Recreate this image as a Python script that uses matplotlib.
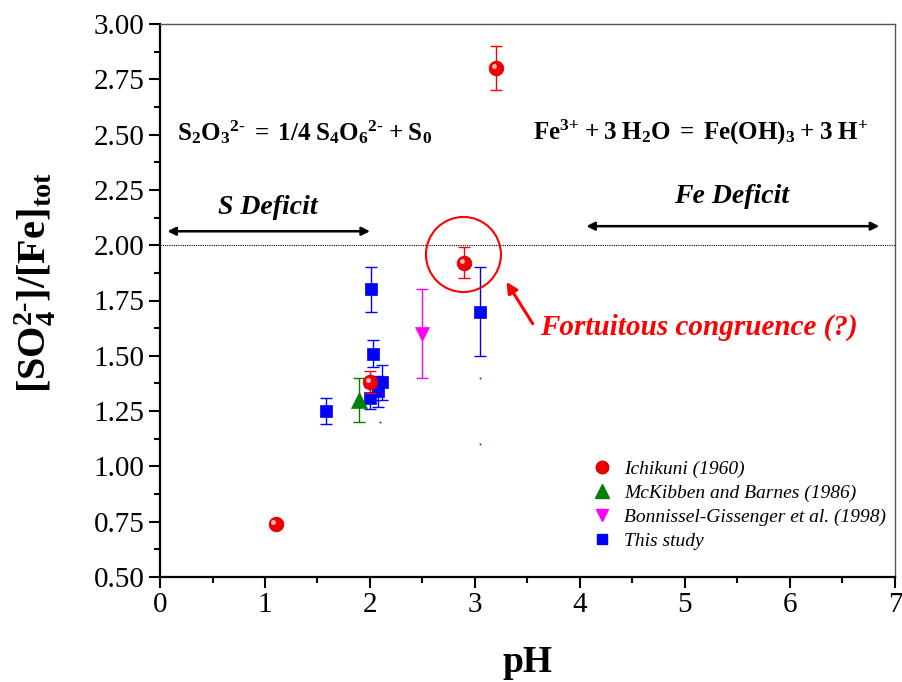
import matplotlib
matplotlib.use("Agg")
import matplotlib.pyplot as plt
from matplotlib.lines import Line2D
from matplotlib.patches import Ellipse
from matplotlib.transforms import ScaledTranslation

plt.rcParams['font.family'] = ['Liberation Serif', 'DejaVu Serif']
plt.rcParams['mathtext.fontset'] = 'custom'
plt.rcParams['mathtext.rm'] = 'Liberation Serif:bold'
plt.rcParams['mathtext.it'] = 'Liberation Serif:italic:bold'
plt.rcParams['mathtext.bf'] = 'Liberation Serif:bold'

# ---- data ----
ichikuni_ph = [1.1, 2.0, 2.9, 3.2]
ichikuni_ratio = [0.74, 1.38, 1.92, 2.80]
ichikuni_err = [0.0, 0.05, 0.07, 0.10]

mckibben_ph = [1.9]
mckibben_ratio = [1.30]
mckibben_err = [0.10]

bonnissel_ph = [2.5]
bonnissel_ratio = [1.60]
bonnissel_err = [0.20]

study_ph = [1.58, 2.01, 2.03, 2.0, 2.08, 2.11, 3.05]
study_ratio = [1.25, 1.80, 1.51, 1.31, 1.34, 1.38, 1.70]
study_err = [0.06, 0.10, 0.06, 0.05, 0.07, 0.08, 0.20]

stray_ph = [3.05, 3.05, 2.1]
stray_ratio = [1.40, 1.10, 1.20]

labels = ['Ichikuni (1960)', 'McKibben and Barnes (1986)',
          'Bonnissel-Gissenger et al. (1998)', 'This study']

x_ticks = [0, 1, 2, 3, 4, 5, 6, 7]
y_ticks = [0.50, 0.75, 1.00, 1.25, 1.50, 1.75, 2.00, 2.25, 2.50, 2.75, 3.00]

fig = plt.figure(figsize=(9.03, 6.82), dpi=100)
ax = fig.add_axes([160/903, 1-577/682, 735/903, 553/682])

ax.set_xlim(0, 7)
ax.set_ylim(0.5, 3.0)

# reference line
ax.axhline(2.0, color='black', lw=0.8, ls=(0, (1, 1)), zorder=1)

cap = 4.3
# This study
ax.errorbar(study_ph, study_ratio, yerr=study_err, fmt='none', ecolor='blue',
            elinewidth=1.0, capsize=cap, capthick=1.0, zorder=2)
ax.plot(study_ph, study_ratio, ls='none', marker='s', ms=9, mfc='blue',
        mec='blue', mew=0.5, zorder=3)
ax.plot(stray_ph, stray_ratio, ls='none', marker='s', ms=1.2, mfc='#2020a0',
        mec='none', zorder=3)

# McKibben
ax.errorbar(mckibben_ph, mckibben_ratio, yerr=mckibben_err, fmt='none',
            ecolor='green', elinewidth=1.0, capsize=cap, capthick=1.0, zorder=2)
ax.plot(mckibben_ph, mckibben_ratio, ls='none', marker='^', ms=11.5,
        mfc='green', mec='green', mew=0.5, zorder=3)

# Bonnissel
ax.errorbar(bonnissel_ph, bonnissel_ratio, yerr=bonnissel_err, fmt='none',
            ecolor='magenta', elinewidth=1.0, capsize=cap, capthick=1.0, zorder=2)
ax.plot(bonnissel_ph, bonnissel_ratio, ls='none', marker='v', ms=10.5,
        mfc='magenta', mec='magenta', mew=0.5, zorder=3)

# Ichikuni (spheres)
ax.errorbar(ichikuni_ph[1:], ichikuni_ratio[1:], yerr=ichikuni_err[1:], fmt='none',
            ecolor='red', elinewidth=1.0, capsize=cap, capthick=1.0, zorder=4)
ax.plot(ichikuni_ph, ichikuni_ratio, ls='none', marker='o', ms=10.5,
        mfc='#f00000', mec='#d00000', mew=0.6, zorder=5)
hl = ax.transData + ScaledTranslation(-1.6/72, 1.6/72, fig.dpi_scale_trans)
ax.plot(ichikuni_ph, ichikuni_ratio, ls='none', marker='o', ms=3.5,
        mfc='#ffd0d0', mec='none', alpha=0.9, transform=hl, zorder=6)

# circle highlighting fortuitous congruence
ax.add_patch(Ellipse((2.89, 1.958), width=75/105, height=75/221, fill=False,
                     edgecolor='red', lw=1.5, zorder=6))
ax.annotate('', xy=(3.30, 1.834), xytext=(3.55, 1.645),
            arrowprops=dict(arrowstyle='-|>', color='red', lw=2.2,
                            mutation_scale=16, shrinkA=0, shrinkB=0))
ax.text(3.62, 1.63, 'Fortuitous congruence (?)', color='red', fontsize=21,
        fontweight='bold', style='italic', ha='left', va='center')

# deficits
ax.annotate('', xy=(0.07, 2.063), xytext=(2.0, 2.063),
            arrowprops=dict(arrowstyle='<|-|>', color='black', lw=1.8,
                            mutation_scale=12, shrinkA=0, shrinkB=0))
ax.text(1.03, 2.17, 'S Deficit', fontsize=20, fontweight='bold',
        style='italic', ha='center', va='center')
ax.annotate('', xy=(4.06, 2.086), xytext=(6.85, 2.086),
            arrowprops=dict(arrowstyle='<|-|>', color='black', lw=1.8,
                            mutation_scale=12, shrinkA=0, shrinkB=0))
ax.text(5.44, 2.22, 'Fe Deficit', fontsize=20, fontweight='bold',
        style='italic', ha='center', va='center')

# equations (operators in braces => no extra math spacing; U+2010 hyphen)
ax.text(0.16, 2.51,
        '$\\mathrm{S_2O_3{}^{2\u2010}\\;{=}\\;1/4\\;S_4O_6{}^{2\u2010}\\;{+}\\;S_0}$',
        fontsize=18, ha='left', va='center')
ax.text(3.55, 2.51,
        '$\\mathrm{Fe^{3{+}}\\;{+}\\;3\\;H_2O\\;{=}\\;Fe(OH)_3\\;{+}\\;3\\;H^{+}}$',
        fontsize=18, ha='left', va='center')

# axes styling
ax.set_xticks(x_ticks)
ax.set_yticks(y_ticks)
ax.set_yticklabels([f'{v:.2f}' for v in y_ticks])
ax.set_xticks([0.5 + i for i in range(7)], minor=True)
ax.set_yticks([0.625 + 0.25 * i for i in range(10)], minor=True)
ax.tick_params(which='major', direction='out', length=8, width=1.5,
               labelsize=21, pad=3)
ax.tick_params(which='minor', direction='out', length=4.5, width=1.5)
for s in ['left', 'bottom']:
    ax.spines[s].set_linewidth(1.6)
    ax.spines[s].set_color('black')
for s in ['top', 'right']:
    ax.spines[s].set_linewidth(1.0)
    ax.spines[s].set_color('#555555')

ax.set_xlabel('pH', fontsize=27, fontweight='bold', labelpad=19)
ax.set_ylabel('$\\mathrm{[SO_4^{2\u2010}]/[Fe]_{tot}}$', fontsize=29)
ax.yaxis.set_label_coords(-0.139, 0.532)

handles = [
    Line2D([], [], ls='none', marker='o', ms=9, mfc='#f00000', mec='#d00000'),
    Line2D([], [], ls='none', marker='^', ms=10, mfc='green', mec='green'),
    Line2D([], [], ls='none', marker='v', ms=9, mfc='magenta', mec='magenta'),
    Line2D([], [], ls='none', marker='s', ms=7, mfc='blue', mec='blue'),
]
ax.legend(handles, labels, loc='upper left', bbox_to_anchor=(0.575, 0.225),
          frameon=False, prop=dict(family='Liberation Serif', style='italic', size=14),
          handletextpad=0.55, labelspacing=0.32, handlelength=1.2, borderaxespad=0)

fig.savefig('out.png', dpi=100)
